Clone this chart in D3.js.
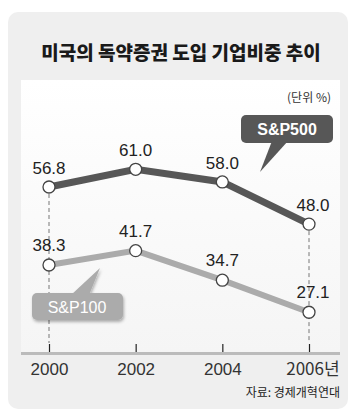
<!DOCTYPE html>
<html>
<head>
<meta charset="utf-8">
<script src="https://cdn.jsdelivr.net/npm/d3@7"></script>
<style>
  body { margin: 0; background: #fff; }
  svg { display: block; }
</style>
</head>
<body>
<svg id="chart"></svg>
<script>
// Data
const years = ['2000', '2002', '2004', '2006'];
const yearLabels = ['2000', '2002', '2004', '2006년'];
const sp500 = [56.8, 61.0, 58.0, 48.0];
const sp100 = [38.3, 41.7, 34.7, 27.1];

const width = 351;
const height = 414;
const font = '"Liberation Sans", Arial, sans-serif';
const krFont = '"Noto Sans CJK KR", "Noto Sans", sans-serif';

let svg = d3.select('#chart')
    .attr('width', width)
    .attr('height', height);

let defs = svg.append('defs');
let grad = defs.append('linearGradient')
    .attr('id', 'innerGrad')
    .attr('x1', 0).attr('y1', 0).attr('x2', 0).attr('y2', 1);
grad.append('stop').attr('offset', '0%').attr('stop-color', '#ffffff');
grad.append('stop').attr('offset', '100%').attr('stop-color', '#f5f5f5');

let shadow = defs.append('filter').attr('id', 'shadow')
    .attr('x', '-20%').attr('y', '-20%').attr('width', '140%').attr('height', '160%');
shadow.append('feDropShadow')
    .attr('dx', 1).attr('dy', 2).attr('stdDeviation', 1.5)
    .attr('flood-color', '#000').attr('flood-opacity', 0.3);

// outer panel
svg.append('rect')
    .attr('x', 8).attr('y', 12)
    .attr('width', 340).attr('height', 397)
    .attr('rx', 10)
    .attr('fill', '#efefef');

// title
svg.append('text')
    .attr('x', 181).attr('y', 60)
    .attr('text-anchor', 'middle')
    .attr('font-family', krFont)
    .attr('font-weight', 900)
    .attr('font-size', 19)
    .attr('fill', '#1a1a1a')
    .text('미국의 독약증권 도입 기업비중 추이');

// inner white area
svg.append('rect')
    .attr('x', 21).attr('y', 80)
    .attr('width', 319).attr('height', 273)
    .attr('fill', 'url(#innerGrad)');

svg.append('text')
    .attr('x', 331).attr('y', 102)
    .attr('text-anchor', 'end')
    .attr('font-family', krFont)
    .attr('font-size', 12)
    .attr('fill', '#333')
    .text('(단위 %)');

// scales
let x = d3.scalePoint()
    .domain(years)
    .range([49, 309]);

let y = d3.scaleLinear()
    .domain([30, 60])
    .range([300, 173.5]);

const baseY = 353;

// x axis
let xAxis = svg.append('g')
    .attr('transform', 'translate(0,' + baseY + ')')
    .call(d3.axisBottom(x).tickSize(-9).tickPadding(9).tickFormat((d, i) => yearLabels[i]));
xAxis.select('.domain').remove();
xAxis.selectAll('.tick line').attr('stroke', '#222').attr('stroke-width', 1.2);
xAxis.selectAll('.tick text')
    .attr('font-family', (d, i) => i === 3 ? krFont : font)
    .attr('font-size', 17)
    .attr('fill', '#333')
    .attr('dy', '0.75em');
xAxis.selectAll('.tick:last-child text')
    .attr('dx', '0.2em');
svg.append('line')
    .attr('x1', 21).attr('x2', 340)
    .attr('y1', baseY + 0.5).attr('y2', baseY + 0.5)
    .attr('stroke', '#bbb')
    .attr('stroke-width', 3);

// dashed guides at the first and last year
[0, 3].forEach(i => {
    svg.append('line')
        .attr('x1', x(years[i])).attr('x2', x(years[i]))
        .attr('y1', y(sp500[i])).attr('y2', baseY - 10)
        .attr('stroke', '#777')
        .attr('stroke-width', 1)
        .attr('stroke-dasharray', '4,3');
});

// source
svg.append('text')
    .attr('x', 340).attr('y', 397)
    .attr('text-anchor', 'end')
    .attr('font-family', krFont)
    .attr('font-size', 12)
    .attr('fill', '#222')
    .text('자료: 경제개혁연대');

// lines and points
let line = d3.line()
    .x((d, i) => x(years[i]))
    .y(d => y(d));

function drawSeries(values, color, lineWidth, labelOffset) {
    svg.append('path')
        .datum(values)
        .attr('d', line)
        .attr('fill', 'none')
        .attr('stroke', color)
        .attr('stroke-width', lineWidth)
        .attr('stroke-linejoin', 'miter');

    svg.selectAll(null)
        .data(values)
        .enter()
        .append('circle')
        .attr('cx', (d, i) => x(years[i]))
        .attr('cy', d => y(d))
        .attr('r', 6)
        .attr('fill', '#fff')
        .attr('stroke', '#444')
        .attr('stroke-width', 1.3);

    svg.selectAll(null)
        .data(values)
        .enter()
        .append('text')
        .attr('x', (d, i) => x(years[i]) + (i === 3 ? 4 : 0))
        .attr('y', d => y(d) - labelOffset)
        .attr('text-anchor', 'middle')
        .attr('font-family', font)
        .attr('font-size', 17)
        .attr('fill', '#222')
        .text(d => d.toFixed(1));
}

drawSeries(sp500, '#575757', 7, 13);
drawSeries(sp100, '#ababab', 6, 14);

// callout: S&P500
svg.append('path')
    .attr('d', 'M272,141 L288,141 L260,172 Z')
    .attr('fill', '#575757');
svg.append('rect')
    .attr('x', 241).attr('y', 115)
    .attr('width', 92).attr('height', 28)
    .attr('rx', 5)
    .attr('fill', '#575757');
svg.append('text')
    .attr('x', 287).attr('y', 135)
    .attr('text-anchor', 'middle')
    .attr('font-family', font)
    .attr('font-weight', 'bold')
    .attr('font-size', 16)
    .attr('fill', '#fff')
    .text('S&P500');

// callout: S&P100
let c100 = svg.append('g').attr('filter', 'url(#shadow)');
c100.append('path')
    .attr('d', 'M71,295 L89,295 L100,268 Z')
    .attr('fill', '#ababab');
c100.append('rect')
    .attr('x', 32).attr('y', 293)
    .attr('width', 91).attr('height', 27)
    .attr('rx', 5)
    .attr('fill', '#ababab');
svg.append('text')
    .attr('x', 77).attr('y', 313)
    .attr('text-anchor', 'middle')
    .attr('font-family', font)
    .attr('font-size', 16)
    .attr('fill', '#fff')
    .text('S&P100');
</script>
</body>
</html>
